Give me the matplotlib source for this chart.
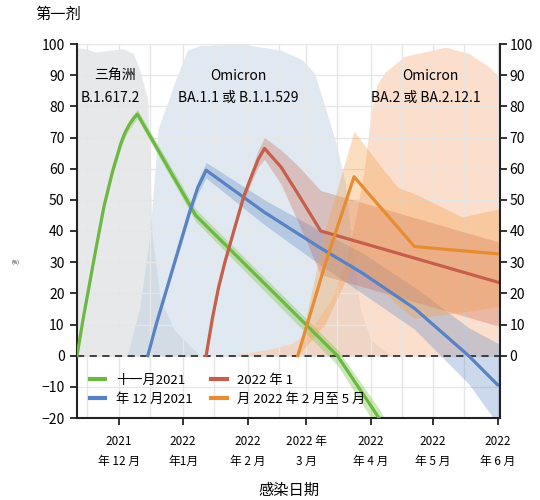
import numpy as np
import pandas as pd
import matplotlib
matplotlib.use('Agg')
import matplotlib.pyplot as plt
import matplotlib.dates as mdates

plt.rcParams['font.family'] = ['Noto Sans CJK SC', 'DejaVu Sans']

# background: share of each variant (%)
delta_dates = ['2021-11-08', '2021-11-15', '2021-11-20', '2021-11-27', '2021-12-03', '2021-12-08',
               '2021-12-11', '2021-12-15', '2021-12-16', '2021-12-17', '2021-12-21', '2021-12-28', '2022-01-09']
delta_share = [99, 98.5, 97.4, 98, 98.5, 97, 92, 82, 61, 39, 18, 8, 0]

ba1_dates = ['2021-12-05', '2021-12-11', '2021-12-16', '2021-12-20', '2021-12-25', '2021-12-28', '2022-01-03',
             '2022-01-09', '2022-01-29', '2022-02-17', '2022-02-27', '2022-03-05', '2022-03-10', '2022-03-15',
             '2022-03-20', '2022-03-23', '2022-03-27', '2022-04-01', '2022-04-11']
ba1_share = [0, 15, 39, 73, 82, 88, 98, 99.5, 100, 98, 95, 90.7, 80, 69, 55, 35, 15, 5, 0]

ba2_dates = ['2022-01-27', '2022-02-11', '2022-02-22', '2022-03-03', '2022-03-13', '2022-03-20', '2022-03-25',
             '2022-03-29', '2022-04-01', '2022-04-04', '2022-04-08', '2022-04-17', '2022-05-07', '2022-05-18',
             '2022-05-28', '2022-06-04']
ba2_share = [0.5, 2, 4, 8, 18, 30, 45, 60, 77, 87, 91, 96, 99, 97, 92.6, 88]

# vaccine effectiveness by month of vaccination (%)
nov_dates = ['2021-11-11', '2021-11-14', '2021-11-17', '2021-11-20', '2021-11-24', '2021-11-28', '2021-12-02',
             '2021-12-04', '2021-12-06', '2021-12-08', '2021-12-10', '2022-01-07', '2022-03-16', '2022-04-05',
             '2022-04-11']
nov_ve = [0, 12, 23, 34, 48, 59, 68, 71.5, 74, 76, 77.5, 45, 0, -20, -28]
nov_lo = [0, 11, 22, 33, 47, 57.5, 66.5, 70, 72.5, 74.5, 76, 43, -3, -24, -33]
nov_hi = [0, 13, 24, 35, 49, 60.5, 69.5, 73, 75.5, 77.5, 79, 47, 2, -17, -24]

dec_dates = ['2021-12-15', '2021-12-19', '2021-12-23', '2021-12-27', '2021-12-31', '2022-01-04', '2022-01-08',
             '2022-01-12', '2022-02-09', '2022-03-08', '2022-03-28', '2022-04-22', '2022-05-18', '2022-06-01',
             '2022-06-04']
dec_ve = [0, 10, 19, 28, 37, 46, 54, 59.5, 46, 34.5, 26.5, 15.2, 0, -9.4, -9.4]
dec_lo = [0, 9, 18, 27, 35.5, 44.5, 52, 57, 42, 29, 20, 8.5, -9, -22, -24]
dec_hi = [0, 11, 20, 29, 38.5, 47.5, 56, 62, 50, 40, 33, 22, 9, 4, 5]

jan_dates = ['2022-01-12', '2022-01-15', '2022-01-18', '2022-01-21', '2022-01-24', '2022-01-27', '2022-01-30',
             '2022-02-03', '2022-02-06', '2022-02-09', '2022-02-17', '2022-02-25', '2022-03-08', '2022-06-04']
jan_ve = [0, 12, 22, 30, 37, 44, 51, 58, 63, 66.5, 60.5, 52, 40, 23]
jan_lo = [0, 11, 21, 29, 36, 43, 49.5, 56, 60.5, 63, 55, 43, 26, 9]
jan_hi = [0, 13, 23, 31, 38, 45, 52.5, 60, 66, 70, 66, 61, 53, 36]

febmay_dates = ['2022-02-25', '2022-03-10', '2022-03-24', '2022-04-22', '2022-06-04']
febmay_ve = [0, 29, 57.4, 35, 32.5]
febmay_band_dates = ['2022-02-25', '2022-03-10', '2022-03-24', '2022-04-06', '2022-04-14', '2022-04-22',
                     '2022-05-15', '2022-06-04']
febmay_lo = [0, 10, 30, 22, 16, 12, 14, 16]
febmay_hi = [0, 40, 72, 60.6, 54, 52, 44.5, 47.5]

series_labels = ['十一月2021', '年 12 月2021', '2022 年 1', '月 2022 年 2 月至 5 月']
tick_dates = ['2021-12-01', '2022-01-01', '2022-02-01', '2022-03-01', '2022-04-01', '2022-05-01', '2022-06-01']
tick_labels = ['2021\n年 12 月', '2022\n年1月', '2022\n年 2 月', '2022 年\n3 月', '2022\n年 4 月',
               '2022\n年 5 月', '2022\n年 6 月']

d = pd.to_datetime

fig = plt.figure(figsize=(5.4, 5.0), dpi=100)
ax = fig.add_axes([0.1426, 0.164, 0.783, 0.748])

# variant shares
ax.fill_between(d(delta_dates), 0, delta_share, color='#dedfe2', alpha=0.7, lw=0, zorder=0.5)
ax.fill_between(d(ba1_dates), 0, ba1_share, color='#bbcfe1', alpha=0.45, lw=0, zorder=0.6)
ax.fill_between(d(ba2_dates), 0, ba2_share, color='#fac8aa', alpha=0.6, lw=0, zorder=0.7)

colors = ['#6cb842', '#5882c3', '#c55f4b', '#e68c32']
band_colors = ['#8fcc62', '#5882c3', '#c55f4b', '#f5a04a']
band_alpha = [0.45, 0.3, 0.3, 0.35]

ax.fill_between(d(nov_dates), nov_lo, nov_hi, color=band_colors[0], alpha=band_alpha[0], lw=0, zorder=1.6)
ax.fill_between(d(dec_dates), dec_lo, dec_hi, color=band_colors[1], alpha=band_alpha[1], lw=0, zorder=1.6)
ax.fill_between(d(jan_dates), jan_lo, jan_hi, color=band_colors[2], alpha=band_alpha[2], lw=0, zorder=1.6)
ax.fill_between(d(febmay_band_dates), febmay_lo, febmay_hi, color=band_colors[3], alpha=band_alpha[3],
                lw=0, zorder=1.6)

ax.axhline(0, color='#333333', ls='--', lw=1.3, dashes=(4, 3), zorder=2.5)

ax.plot(d(nov_dates), nov_ve, color=colors[0], lw=2.3, label=series_labels[0], zorder=3)
ax.plot(d(dec_dates), dec_ve, color=colors[1], lw=2.3, label=series_labels[1], zorder=3)
ax.plot(d(jan_dates), jan_ve, color=colors[2], lw=2.3, label=series_labels[2], zorder=3)
ax.plot(d(febmay_dates), febmay_ve, color=colors[3], lw=2.3, label=series_labels[3], zorder=3)

ax.set_xlim(d('2021-11-11'), d('2022-06-02'))
ax.set_ylim(-20, 100)
ax.set_yticks(range(-20, 101, 10))
ax.set_xticks(d(tick_dates))
ax.set_xticklabels(tick_labels, fontsize=8.5, linespacing=1.7)
ax.xaxis.set_minor_locator(mdates.DayLocator(bymonthday=16))
ax.grid(True, which='both', axis='x', color='#e6e6e6', lw=1.0)
ax.grid(True, which='major', axis='y', color='#e6e6e6', lw=1.0)
ax.tick_params(axis='x', which='minor', length=0)
ax.tick_params(axis='both', which='major', direction='out', length=5, width=1.3, labelsize=10,
               color='#222222', pad=4)
ax.tick_params(axis='x', pad=7, labelsize=8.5)

for side in ['top', 'right']:
    ax.spines[side].set_visible(False)
for side in ['left', 'bottom']:
    ax.spines[side].set_color('#222222')
    ax.spines[side].set_linewidth(1.5)

ax2 = ax.twinx()
ax2.set_ylim(-20, 100)
ax2.set_yticks(range(0, 101, 10))
ax2.tick_params(axis='y', direction='out', length=5, width=1.3, labelsize=10, color='#222222', pad=2)
for side in ['top', 'left', 'bottom']:
    ax2.spines[side].set_visible(False)
ax2.spines['right'].set_color('#222222')
ax2.spines['right'].set_linewidth(1.5)

# variant names
ax.text(0.09, 0.914, '三角洲', transform=ax.transAxes, ha='center', va='center', fontsize=10, zorder=5)
ax.text(0.078, 0.856, 'B.1.617.2', transform=ax.transAxes, ha='center', va='center', fontsize=10, zorder=5)
ax.text(0.381, 0.914, 'Omicron', transform=ax.transAxes, ha='center', va='center', fontsize=10, zorder=5)
ax.text(0.381, 0.856, 'BA.1.1 或 B.1.1.529', transform=ax.transAxes, ha='center', va='center',
        fontsize=10, zorder=5)
ax.text(0.835, 0.914, 'Omicron', transform=ax.transAxes, ha='center', va='center', fontsize=10, zorder=5)
ax.text(0.825, 0.856, 'BA.2 或 BA.2.12.1', transform=ax.transAxes, ha='center', va='center',
        fontsize=10, zorder=5)

leg = ax.legend(loc='lower left', bbox_to_anchor=(0.0, 0.0), ncol=2, frameon=False, fontsize=9.5,
                handlelength=1.2, handletextpad=0.8, columnspacing=1.4, labelspacing=0.45, borderaxespad=0.55)
for line in leg.get_lines():
    line.set_linewidth(3)

ax.set_xlabel('感染日期', fontsize=11, labelpad=10)
fig.text(0.065, 0.972, '第一剂', fontsize=11, va='center', ha='left')
fig.text(0.022, 0.475, '(%)', fontsize=3.5, va='center')

fig.savefig('out.png', dpi=100)
